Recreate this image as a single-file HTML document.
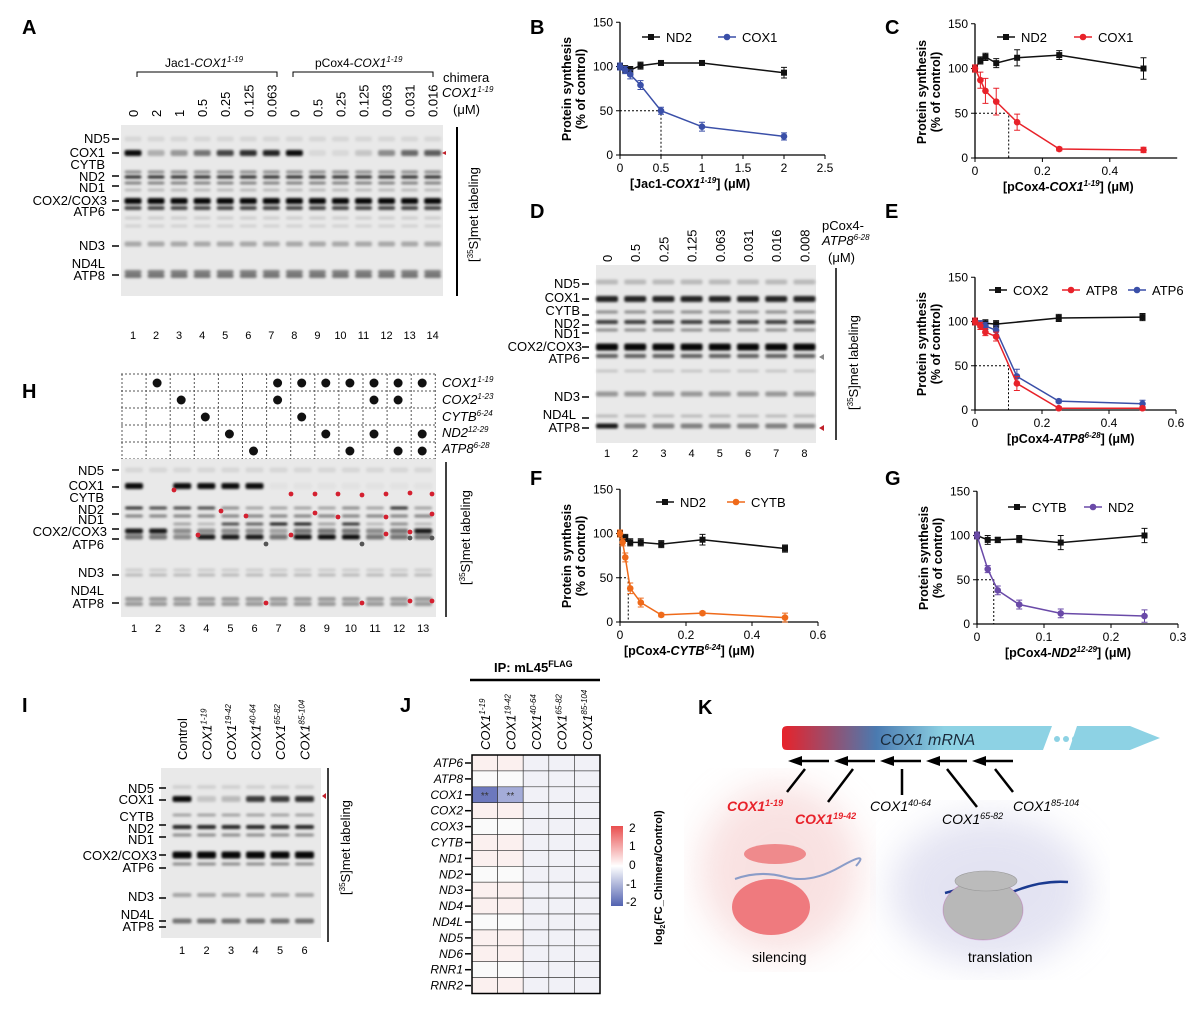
<!DOCTYPE html>
<html><head><meta charset="utf-8"><style>
body{margin:0;background:#fff}
svg{display:block;font-family:"Liberation Sans",Arial,sans-serif}
.t{font-size:12px}
.L{font-size:20px;font-weight:bold}
.s{font-size:13px}
.ax{font-size:12px}
.b{font-weight:bold;font-size:13px}
</style></head><body>
<svg id="s" width="1203" height="1011" viewBox="0 0 1203 1011" xmlns="http://www.w3.org/2000/svg">
<defs>
<filter id="bl" x="-20%" y="-100%" width="140%" height="300%"><feGaussianBlur stdDeviation="1.3"/></filter>
<filter id="bb"><feGaussianBlur stdDeviation="18"/></filter>
<linearGradient id="mr" x1="0" x2="1"><stop offset="0" stop-color="#e8222a"/><stop offset="0.35" stop-color="#4a7ab0"/><stop offset="0.6" stop-color="#8dd2e4"/><stop offset="1" stop-color="#8dd2e4"/></linearGradient>
<linearGradient id="hm" x1="0" y1="0" x2="0" y2="1"><stop offset="0" stop-color="#e94e4e"/><stop offset="0.5" stop-color="#fff"/><stop offset="1" stop-color="#5262b0"/></linearGradient>
</defs>
<g id="g"></g>
<text x="22" y="34" class="L">A</text>
<text x="530" y="34" class="L">B</text>
<text x="885" y="34" class="L">C</text>
<text x="530" y="218" class="L">D</text>
<text x="885" y="218" class="L">E</text>
<text x="530" y="485" class="L">F</text>
<text x="885" y="485" class="L">G</text>
<text x="22" y="398" class="L">H</text>
<text x="22" y="712" class="L">I</text>
<text x="400" y="712" class="L">J</text>
<text x="698" y="714" class="L">K</text>

<text x="165" y="67" class="t">Jac1-<tspan font-style="italic">COX1</tspan><tspan font-size="8" dy="-5" font-style="italic">1-19</tspan></text>
<text x="315" y="67" class="t">pCox4-<tspan font-style="italic">COX1</tspan><tspan font-size="8" dy="-5" font-style="italic">1-19</tspan></text>
<path d="M137 77V72H277V77M293 77V72H433V77" stroke="#000" fill="none"/>
<text x="443" y="82" class="s">chimera</text>
<text x="442" y="97" class="s" font-style="italic">COX1<tspan font-size="8" dy="-5">1-19</tspan></text>
<text x="453" y="114" class="s">(μM)</text>
<g class="s" id="aTop"></g>
<g class="s" text-anchor="end">
<text x="110" y="143">ND5</text><text x="105" y="157">COX1</text><text x="105" y="169">CYTB</text><text x="105" y="181">ND2</text><text x="105" y="192">ND1</text><text x="107" y="205">COX2/COX3</text><text x="105" y="216">ATP6</text><text x="105" y="250">ND3</text><text x="105" y="268">ND4L</text><text x="105" y="280">ATP8</text>
</g>
<g font-size="11" text-anchor="middle" id="aNum"></g>
<path d="M457 127V296" stroke="#000" stroke-width="2"/>
<text transform="translate(478,262) rotate(-90)" class="s">[<tspan font-size="8" dy="-5">35</tspan><tspan dy="5">S]met labeling</tspan></text>
<path d="M446 151l-4 2 4 2z" fill="#c0202a"/>

<text x="822" y="230" class="s">pCox4-</text>
<text x="822" y="245" class="s" font-style="italic">ATP8<tspan font-size="8" dy="-5">6-28</tspan></text>
<text x="828" y="262" class="s">(μM)</text>
<g class="s" text-anchor="end">
<text x="580" y="288">ND5</text><text x="580" y="302">COX1</text><text x="580" y="315">CYTB</text><text x="580" y="328">ND2</text><text x="580" y="338">ND1</text><text x="582" y="351">COX2/COX3</text><text x="580" y="363">ATP6</text><text x="580" y="401">ND3</text><text x="576" y="419">ND4L</text><text x="580" y="432">ATP8</text>
</g>
<path d="M836 268V440" stroke="#000" stroke-width="1.5"/>
<text transform="translate(858,410) rotate(-90)" class="s">[<tspan font-size="8" dy="-5">35</tspan><tspan dy="5">S]met labeling</tspan></text>
<path d="M824 354l-5 3 5 3z" fill="#888"/><path d="M824 425l-5 3 5 3z" fill="#c0202a"/>

<g class="s" font-style="italic">
<text x="442" y="387">COX1<tspan font-size="8" dy="-5">1-19</tspan></text>
<text x="442" y="404">COX2<tspan font-size="8" dy="-5">1-23</tspan></text>
<text x="442" y="421">CYTB<tspan font-size="8" dy="-5">6-24</tspan></text>
<text x="442" y="437">ND2<tspan font-size="8" dy="-5">12-29</tspan></text>
<text x="442" y="453">ATP8<tspan font-size="8" dy="-5">6-28</tspan></text>
</g>
<g class="s" text-anchor="end">
<text x="104" y="475">ND5</text><text x="104" y="490">COX1</text><text x="104" y="502">CYTB</text><text x="104" y="514">ND2</text><text x="104" y="524">ND1</text><text x="107" y="536">COX2/COX3</text><text x="104" y="549">ATP6</text><text x="104" y="577">ND3</text><text x="104" y="595">ND4L</text><text x="104" y="608">ATP8</text>
</g>
<path d="M446 462V617" stroke="#000" stroke-width="1.5"/>
<text transform="translate(470,585) rotate(-90)" class="s">[<tspan font-size="8" dy="-5">35</tspan><tspan dy="5">S]met labeling</tspan></text>

<g class="s" id="iTop"></g>
<g class="s" text-anchor="end">
<text x="154" y="793">ND5</text><text x="154" y="804">COX1</text><text x="154" y="821">CYTB</text><text x="154" y="833">ND2</text><text x="154" y="844">ND1</text><text x="157" y="860">COX2/COX3</text><text x="154" y="872">ATP6</text><text x="154" y="901">ND3</text><text x="154" y="919">ND4L</text><text x="154" y="931">ATP8</text>
</g>
<path d="M328 768V942" stroke="#000" stroke-width="1.5"/>
<text transform="translate(350,895) rotate(-90)" class="s">[<tspan font-size="8" dy="-5">35</tspan><tspan dy="5">S]met labeling</tspan></text>
<path d="M326 793l-4 3 4 3z" fill="#c0202a"/>

<text x="494" y="672" class="b" font-size="14">IP: mL45<tspan font-size="9" dy="-5">FLAG</tspan></text>
<path d="M470 680H600" stroke="#000" stroke-width="2.5"/>
<text x="662" y="945" transform="rotate(-90 662 945)" font-size="11" font-weight="bold">log<tspan font-size="7" dy="3">2</tspan><tspan dy="-3">(FC_Chimera/Control)</tspan></text>
<g font-size="12" text-anchor="start">
<text x="629" y="832">2</text><text x="629" y="850">1</text><text x="629" y="869">0</text><text x="626" y="888">-1</text><text x="626" y="906">-2</text>
</g>
<rect x="611" y="826" width="12" height="80" fill="url(#hm)"/>

<g>
<ellipse cx="780" cy="870" rx="80" ry="85" fill="#f3c4c4" filter="url(#bb)" opacity="0.5"/>
<ellipse cx="990" cy="890" rx="100" ry="75" fill="#d2d2ea" filter="url(#bb)" opacity="0.6"/>
<path d="M787 726H1052L1043 750H787Q782 750 782 745V731Q782 726 787 726Z" fill="url(#mr)"/>
<path d="M1077 726H1130L1160 738L1130 750H1069Z" fill="#8dd2e4"/>
<circle cx="1057" cy="739" r="3" fill="#8dd2e4"/><circle cx="1066" cy="739" r="3" fill="#8dd2e4"/><circle cx="1075" cy="739" r="3" fill="#8dd2e4"/>
<text x="880" y="745" font-size="16" font-style="italic" fill="#1a2a3a">COX1 mRNA</text>
<g stroke="#000" stroke-width="2.5">
<path d="M800 761H829M846 761H875M892 761H921M938 761H967M984 761H1013"/>
<path d="M805 769L787 792M853 769L828 802M902 769V795M947 769L977 807M995 769L1013 792"/>
</g>
<g fill="#000"><path d="M788 761l14-5v10z"/><path d="M834 761l14-5v10z"/><path d="M880 761l14-5v10z"/><path d="M926 761l14-5v10z"/><path d="M972 761l14-5v10z"/></g>
<g font-size="14" font-style="italic">
<text x="727" y="811" fill="#e8222a" font-weight="bold">COX1<tspan font-size="9" dy="-5">1-19</tspan></text>
<text x="795" y="824" fill="#e8222a" font-weight="bold">COX1<tspan font-size="9" dy="-5">19-42</tspan></text>
<text x="870" y="811">COX1<tspan font-size="9" dy="-5">40-64</tspan></text>
<text x="942" y="824">COX1<tspan font-size="9" dy="-5">65-82</tspan></text>
<text x="1013" y="811">COX1<tspan font-size="9" dy="-5">85-104</tspan></text>
</g>
<ellipse cx="775" cy="854" rx="31" ry="10" fill="#ef8a8c"/>
<path d="M735 879Q760 870 785 877T840 867T856 866" stroke="#8a9cc8" stroke-width="2" fill="none"/>
<ellipse cx="771" cy="907" rx="39" ry="28" fill="#ef7a7e"/>
<text x="752" y="962" font-size="14">silencing</text>
<path d="M945 893Q975 885 990 880M1010 893Q1040 880 1068 882" stroke="#1a3a90" stroke-width="2.5" fill="none"/>
<ellipse cx="983" cy="910" rx="40" ry="30" fill="#b8b8b8" stroke="#a09" stroke-opacity="0.2"/>
<ellipse cx="986" cy="881" rx="31" ry="10" fill="#bbb" stroke="#999" stroke-width="0.6"/>
<text x="968" y="962" font-size="14">translation</text>
</g>
</svg>
<script>
const NS="http://www.w3.org/2000/svg",G=document.getElementById('g');
function el(t,a,p){const e=document.createElementNS(NS,t);for(const k in a)e.setAttribute(k,a[k]);(p||G).appendChild(e);return e;}
function gel(x,y,w,h,lanes,bands,lw){
 el('rect',{x,y,width:w,height:h,fill:'#e9e9e9'});
 const g=el('g',{filter:'url(#bl)'});
 lanes.forEach((lx,i)=>{bands.forEach(b=>{let v=typeof b.v=='function'?b.v(i):b.v;if(v<=0)return;
  el('rect',{x:lx-lw/2,y:b.y-b.h/2,width:lw,height:b.h,rx:2,fill:'#000',opacity:v},g);});});
}
function ticks(x,arr){arr.forEach(a=>el('path',{d:`M${x} ${a}h7`,stroke:'#000','stroke-width':1.5}));}
const la=[];for(let i=0;i<14;i++)la.push(133+23.05*i);
const cA=[0.95,0.25,0.35,0.5,0.7,0.8,0.85,0.95,0.07,0.07,0.15,0.4,0.55,0.6];
gel(121,125,322,171,la,[{y:139,h:5,v:0.08},{y:153,h:6,v:i=>cA[i]},{y:172,h:3,v:0.4},{y:177,h:3,v:0.85},{y:183,h:3,v:0.45},{y:190,h:3,v:0.2},{y:201,h:6,v:0.97},{y:208,h:4,v:0.7},{y:218,h:3,v:0.12},{y:226,h:3,v:0.1},{y:244,h:5,v:0.28},{y:272,h:4,v:0.45},{y:276,h:4,v:0.5}],17);
ticks(112,[139,153,176,186,201,210,246,275]);
const aT=document.getElementById('aTop');
['0','2','1','0.5','0.25','0.125','0.063','0','0.5','0.25','0.125','0.063','0.031','0.016'].forEach((s,i)=>{const t=el('text',{transform:`translate(${la[i]+5},117) rotate(-90)`},aT);t.textContent=s;});
const aN=document.getElementById('aNum');la.forEach((x,i)=>{const t=el('text',{x,y:339},aN);t.textContent=i+1;});
function plot(o){
 const X=v=>o.x0+v*o.sx,Y=v=>o.y0-v*o.sy;
 el('path',{d:`M${o.x0} ${Y(150)}V${o.y0}H${X(o.xmax)}`,stroke:'#000',fill:'none','stroke-width':1.3});
 [0,50,100,150].forEach(v=>{el('path',{d:`M${o.x0-4} ${Y(v)}h4`,stroke:'#000'});const t=el('text',{x:o.x0-7,y:Y(v)+4,'text-anchor':'end',class:'ax'});t.textContent=v;});
 o.xt.forEach(v=>{el('path',{d:`M${X(v)} ${o.y0}v4`,stroke:'#000'});const t=el('text',{x:X(v),y:o.y0+17,'text-anchor':'middle',class:'ax'});t.textContent=v;});
 if(o.dash)el('path',{d:`M${o.x0} ${Y(50)}H${X(o.dash)}V${o.y0}`,stroke:'#000','stroke-dasharray':'2,2',fill:'none'});
 o.series.forEach(s=>{
  el('polyline',{points:s.d.map(p=>X(p[0])+','+Y(p[1])).join(' '),stroke:s.c,fill:'none','stroke-width':1.5});
  s.d.forEach(p=>{const e=p[2]||4;el('path',{d:`M${X(p[0])} ${Y(p[1]-e)}V${Y(p[1]+e)}M${X(p[0])-3} ${Y(p[1]-e)}h6M${X(p[0])-3} ${Y(p[1]+e)}h6`,stroke:s.c});
   if(s.m=='s')el('rect',{x:X(p[0])-3,y:Y(p[1])-3,width:6,height:6,fill:s.c});else el('circle',{cx:X(p[0]),cy:Y(p[1]),r:3.3,fill:s.c});});
 });
 o.leg.forEach(l=>{el('path',{d:`M${l[0]} ${l[1]}h18`,stroke:l[3],'stroke-width':1.5});if(l[4]=='s')el('rect',{x:l[0]+6,y:l[1]-3,width:6,height:6,fill:l[3]});else el('circle',{cx:l[0]+9,cy:l[1],r:3.3,fill:l[3]});const t=el('text',{x:l[0]+24,y:l[1]+5,class:'s'});t.textContent=l[2];});
 const yl=el('text',{transform:`translate(${o.x0-42},${o.y0-66}) rotate(-90)`,'text-anchor':'middle','font-weight':'bold','font-size':'12.5'});
 yl.innerHTML='<tspan x="0" dy="-7">Protein synthesis</tspan><tspan x="0" dy="14">(% of control)</tspan>';
 const xl=el('text',{x:o.xl[0],y:o.y0+33,'font-weight':'bold','font-size':'12.5'});xl.innerHTML=o.xl[1];
}
const K='#111';
plot({x0:620,y0:155,sx:82,sy:0.885,xmax:2.5,xt:[0,0.5,1.0,1.5,2.0,2.5],dash:0.5,
 series:[{c:K,m:'s',d:[[0,100],[0.063,97],[0.125,96],[0.25,101],[0.5,104,2],[1,104,2],[2,93,6]]},{c:'#3a4fa8',m:'c',d:[[0,100],[0.063,96],[0.125,91,5],[0.25,79,5],[0.5,50,4],[1,32,5],[2,21,4]]}],
 leg:[[642,37,'ND2',K,'s'],[718,37,'COX1','#3a4fa8','c']],xl:[630,'[Jac1-<tspan font-style="italic">COX1</tspan><tspan font-size="8" dy="-5" font-style="italic">1-19</tspan><tspan dy="5">] (μM)</tspan>']});
plot({x0:975,y0:158,sx:337,sy:0.895,xmax:0.6,xt:[0,0.2,0.4],dash:0.1,
 series:[{c:K,m:'s',d:[[0,100,3],[0.016,109,4],[0.031,113,4],[0.063,106,5],[0.125,112,9],[0.25,115,5],[0.5,100,12]]},{c:'#e8222a',m:'c',d:[[0,100,4],[0.016,87,9],[0.031,75,14],[0.063,63,15],[0.125,40,9],[0.25,10,2],[0.5,9,3]]}],
 leg:[[997,37,'ND2',K,'s'],[1074,37,'COX1','#e8222a','c']],xl:[1003,'[pCox4-<tspan font-style="italic">COX1</tspan><tspan font-size="8" dy="-5" font-style="italic">1-19</tspan><tspan dy="5">] (μM)</tspan>']});
plot({x0:975,y0:410,sx:335,sy:0.885,xmax:0.6,xt:[0,0.2,0.4,0.6],dash:0.1,
 series:[{c:K,m:'s',d:[[0,100,3],[0.031,98,4],[0.063,97,4],[0.25,104,4],[0.5,105,4]]},{c:'#3a4fa8',m:'c',d:[[0,100],[0.016,97],[0.031,95,4],[0.063,90,5],[0.125,38,8],[0.25,10,2],[0.5,7,4]]},{c:'#e8222a',m:'c',d:[[0,100],[0.016,95],[0.031,88,4],[0.063,83,5],[0.125,30,8],[0.25,2,2],[0.5,2,2]]}],
 leg:[[989,290,'COX2',K,'s'],[1062,290,'ATP8','#e8222a','c'],[1128,290,'ATP6','#3a4fa8','c']],xl:[1007,'[pCox4-<tspan font-style="italic">ATP8</tspan><tspan font-size="8" dy="-5" font-style="italic">6-28</tspan><tspan dy="5">] (μM)</tspan>']});
plot({x0:620,y0:622,sx:330,sy:0.885,xmax:0.6,xt:[0,0.2,0.4,0.6],dash:0.025,
 series:[{c:K,m:'s',d:[[0,100],[0.016,95],[0.031,90],[0.063,90,4],[0.125,88,4],[0.25,93,6],[0.5,83,4]]},{c:'#ef6a1a',m:'c',d:[[0,100],[0.008,90,4],[0.016,73,5],[0.031,38,6],[0.063,22,5],[0.125,8,2],[0.25,10,2],[0.5,5,5]]}],
 leg:[[656,502,'ND2',K,'s'],[727,502,'CYTB','#ef6a1a','c']],xl:[624,'[pCox4-<tspan font-style="italic">CYTB</tspan><tspan font-size="8" dy="-5" font-style="italic">6-24</tspan><tspan dy="5">] (μM)</tspan>']});
plot({x0:977,y0:624,sx:670,sy:0.885,xmax:0.3,xt:[0,0.1,0.2,0.3],dash:0.025,
 series:[{c:K,m:'s',d:[[0,100,4],[0.016,95,5],[0.031,95,3],[0.063,96,4],[0.125,92,8],[0.25,100,8]]},{c:'#6a4aa8',m:'c',d:[[0,100],[0.016,62,4],[0.031,38,5],[0.063,22,5],[0.125,12,5],[0.25,9,7]]}],
 leg:[[1008,507,'CYTB',K,'s'],[1084,507,'ND2','#6a4aa8','c']],xl:[1005,'[pCox4-<tspan font-style="italic">ND2</tspan><tspan font-size="8" dy="-5" font-style="italic">12-29</tspan><tspan dy="5">] (μM)</tspan>']});
const ld=[];for(let i=0;i<8;i++)ld.push(607+28.2*i);
gel(596,265,220,178,ld,[{y:282,h:5,v:0.2},{y:299,h:6,v:0.85},{y:312,h:3,v:0.4},{y:322,h:4,v:0.75},{y:330,h:3,v:0.4},{y:347,h:7,v:0.97},{y:356,h:4,v:0.6},{y:371,h:3,v:0.15},{y:394,h:5,v:0.35},{y:416,h:3,v:0.2},{y:426,h:5,v:i=>i==0?0.9:0.45}],22);
ticks(582,[284,299,315,325,333,347,358,397,418,428]);
['0','0.5','0.25','0.125','0.063','0.031','0.016','0.008'].forEach((s,i)=>{const t=el('text',{transform:`translate(${ld[i]+5},262) rotate(-90)`,class:'s'});t.textContent=s;});
ld.forEach((x,i)=>{const t=el('text',{x,y:457,'text-anchor':'middle','font-size':11});t.textContent=i+1;});
const lh=[];for(let i=0;i<13;i++)lh.push(134+24.1*i);
for(let r=0;r<6;r++)el('path',{d:`M121 ${374+r*17}H436`,stroke:'#555','stroke-dasharray':'2,2'});
for(let c=0;c<14;c++)el('path',{d:`M${122+c*24.1} 374V459`,stroke:'#555','stroke-dasharray':'2,2'});
const dots=[[1,6,7,8,9,10,11,12],[2,6,10,11],[3,7],[4,8,10,12],[5,9,11,12]];
dots.forEach((a,r)=>a.forEach(c=>el('circle',{cx:134+c*24.1-1,cy:383+r*17,r:4.5,fill:'#111'})));
const cH=[0.95,0,0.95,0.95,0.95,0.95,0.03,0.03,0.03,0.03,0.03,0.03,0.03];
gel(121,459,315,158,lh,[{y:470,h:5,v:0.08},{y:486,h:6,v:i=>cH[i]},{y:508,h:3,v:i=>[0.8,0.7,0.7,0.7,0.4,0.3,0.3,0.3,0.3,0.4,0.3,0.8,0.3][i]},{y:516,h:3,v:0.45},{y:524,h:3,v:i=>[0,0,0.3,0.2,0.7,0.6,0.9,0.9,0.3,0.8,0.2,0.4,0.2][i]},{y:531,h:5,v:i=>[0.9,0.9,0.4,0.4,0.4,0.4,0.3,0.5,0.5,0.5,0.4,0.5,0.9][i]},{y:537,h:5,v:i=>[0.5,0.5,0.4,0.9,0.9,0.9,0.5,0.95,0.95,0.95,0.5,0.5,0.5][i]},{y:570,h:3,v:0.12},{y:575,h:3,v:0.2},{y:599,h:4,v:0.35},{y:604,h:4,v:0.35}],18);
ticks(112,[470,487,514,529,539,575,603]);
[[174,490],[291,494],[315,494],[338,494],[362,495],[386,494],[410,493],[432,494],[221,511],[246,516],[315,513],[338,517],[386,517],[432,514],[198,535],[291,535],[386,534],[410,532],[266,603],[362,603],[410,601],[432,601]].forEach(p=>el('circle',{cx:p[0],cy:p[1],r:2.4,fill:'#d42030'}));
[[266,544],[362,544],[410,538],[432,538]].forEach(p=>el('circle',{cx:p[0],cy:p[1],r:2.4,fill:'#555'}));
lh.forEach((x,i)=>{const t=el('text',{x,y:632,'text-anchor':'middle','font-size':11});t.textContent=i+1;});
const li=[];for(let i=0;i<6;i++)li.push(182+24.5*i);
const cI=[0.95,0.15,0.2,0.75,0.75,0.8];
gel(161,768,160,170,li,[{y:787,h:4,v:0.1},{y:799,h:6,v:i=>cI[i]},{y:815,h:3,v:0.3},{y:827,h:4,v:0.85},{y:835,h:3,v:0.4},{y:855,h:7,v:0.97},{y:864,h:3,v:0.4},{y:895,h:4,v:0.3},{y:921,h:5,v:0.5}],19);
ticks(159,[788,800,825,837,855,868,898,921,927]);
const iT=document.getElementById('iTop');
[['Control',''],['COX1','1-19'],['COX1','19-42'],['COX1','40-64'],['COX1','65-82'],['COX1','85-104']].forEach((s,i)=>{const t=el('text',{transform:`translate(${li[i]+5},760) rotate(-90)`},iT);t.innerHTML=s[1]?`<tspan font-style="italic">${s[0]}</tspan><tspan font-size="8" dy="-5" font-style="italic">${s[1]}</tspan>`:s[0];});
li.forEach((x,i)=>{const t=el('text',{x,y:954,'text-anchor':'middle','font-size':11});t.textContent=i+1;});
const hx=472,hy=755,cw=25.6,rh=15.9;
const rows=['ATP6','ATP8','COX1','COX2','COX3','CYTB','ND1','ND2','ND3','ND4','ND4L','ND5','ND6','RNR1','RNR2'];
const fill={'2,0':'#6c78bd','2,1':'#a4acd8'};
rows.forEach((r,ri)=>{for(let c=0;c<5;c++){let f=fill[ri+','+c]||(c<2&&ri%3!=1?'#fbf0ef':(c>=2?'#f1f1f7':'#fafafa'));el('rect',{x:hx+c*cw,y:hy+ri*rh,width:cw,height:rh,fill:f,stroke:'#333','stroke-width':0.6});}
 const t=el('text',{x:hx-9,y:hy+ri*rh+12,'text-anchor':'end','font-size':12,'font-style':'italic'});t.textContent=r;el('path',{d:`M${hx-7} ${hy+ri*rh+8}h6`,stroke:'#000','stroke-width':1.5});});
el('rect',{x:hx,y:hy,width:cw*5,height:rh*15,fill:'none',stroke:'#000','stroke-width':1.5});
[[0,'**'],[1,'**']].forEach(a=>{const t=el('text',{x:hx+a[0]*cw+cw/2,y:hy+2*rh+12,'text-anchor':'middle','font-size':10,fill:'#333'});t.textContent=a[1];});
['1-19','19-42','40-64','65-82','85-104'].forEach((s,i)=>{const t=el('text',{transform:`translate(${hx+i*cw+cw/2+5},750) rotate(-90)`,'font-size':13,'font-style':'italic'});t.innerHTML=`COX1<tspan font-size="8" dy="-5">${s}</tspan>`;});
</script>
</body></html>
